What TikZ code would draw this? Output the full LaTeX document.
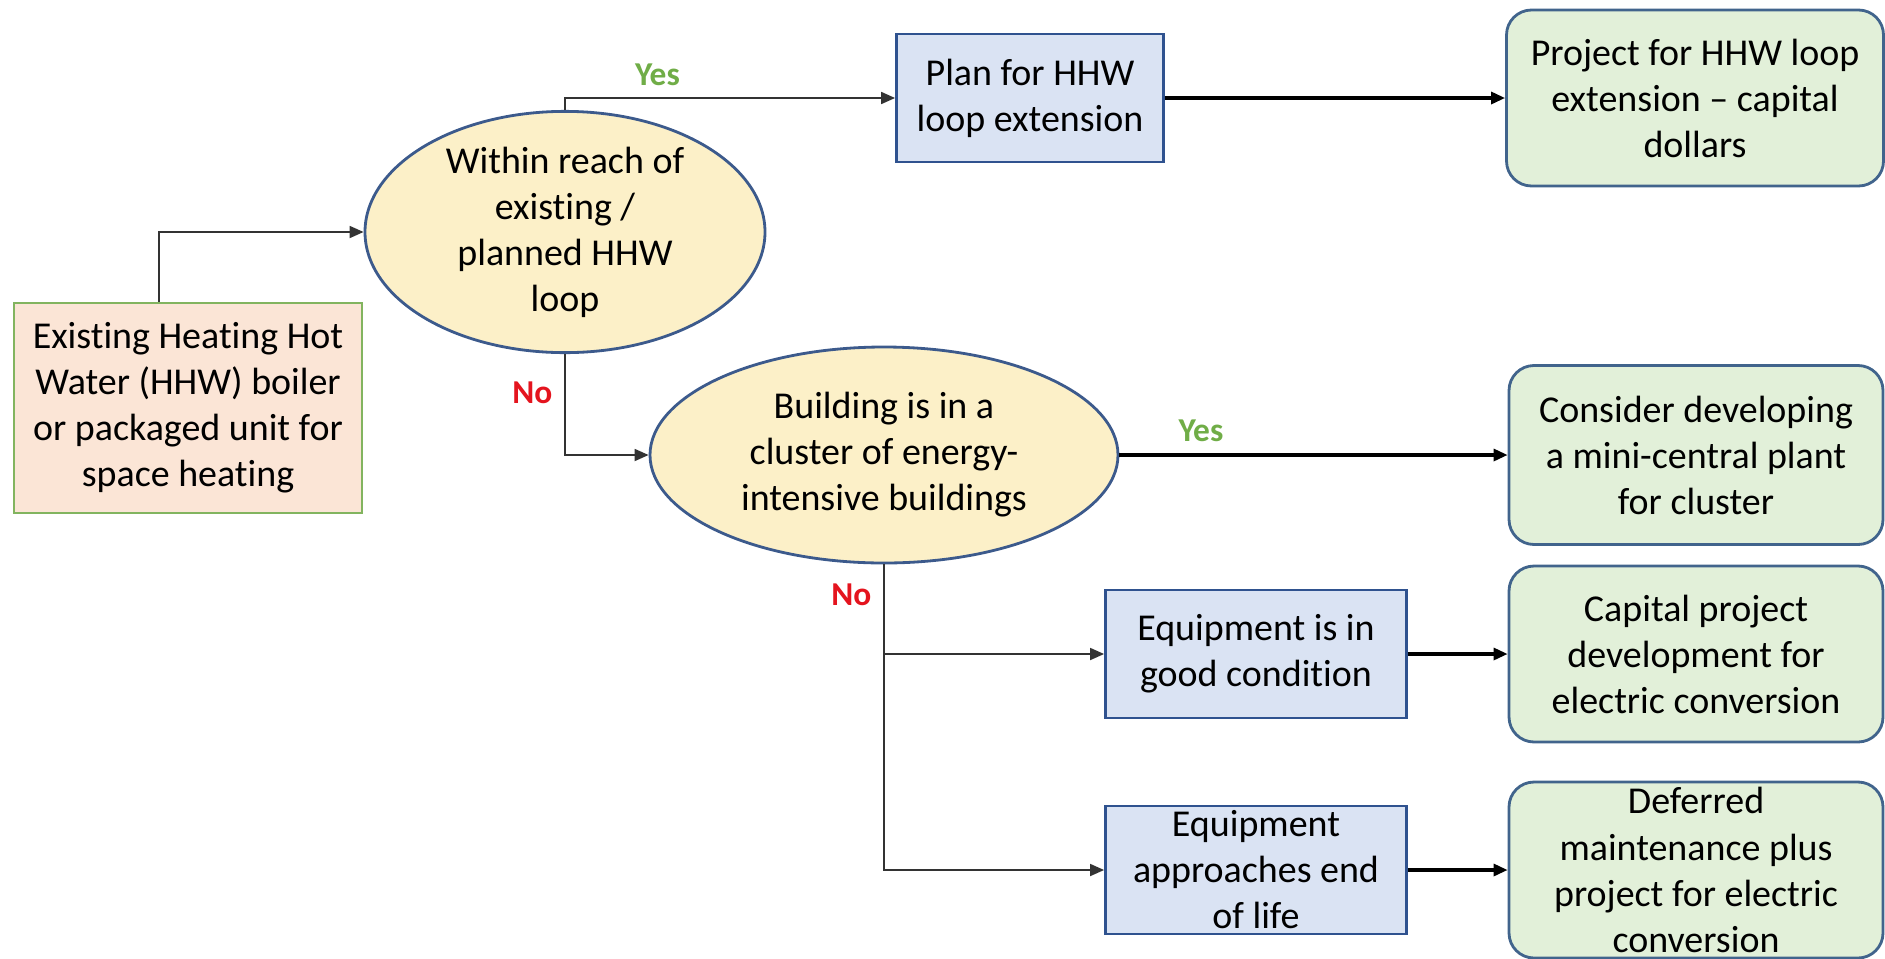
\documentclass[tikz,border=0pt]{standalone}
\usepackage{fontspec}
\setmainfont{Carlito}[Ligatures=CommonOff]
\usepackage{xcolor}
\usepackage{tikz}
\usetikzlibrary{arrows.meta, positioning, shapes.geometric}
\definecolor{startfill}{RGB}{251, 229, 214}
\definecolor{startdraw}{RGB}{130, 180, 95}
\definecolor{decfill}{RGB}{252, 240, 200}
\definecolor{decdraw}{RGB}{60, 90, 140}
\definecolor{actfill}{RGB}{218, 227, 243}
\definecolor{actdraw}{RGB}{47, 82, 143}
\definecolor{outfill}{RGB}{226, 240, 217}
\definecolor{outdraw}{RGB}{65, 100, 140}
\definecolor{yesgreen}{RGB}{112, 173, 71}
\definecolor{nored}{RGB}{228, 20, 30}

\begin{document}
\begin{tikzpicture}[
  font=\fontsize{10.8}{13.1}\selectfont,
  startbox/.style={rectangle, fill=startfill, draw=startdraw, line width=0.8pt,
    minimum width=3.48cm, minimum height=2.10cm, align=center, inner sep=0pt},
  decision/.style={ellipse, fill=decfill, draw=decdraw, line width=0.8pt,
    align=center, inner sep=0pt},
  action/.style={rectangle, fill=actfill, draw=actdraw, line width=0.8pt,
    minimum width=3.01cm, minimum height=1.28cm, align=center, inner sep=0pt},
  outcome/.style={rectangle, rounded corners=0.25cm, fill=outfill, draw=outdraw, line width=0.8pt,
    minimum width=3.74cm, minimum height=1.76cm, align=center, inner sep=0pt},
  link/.style={-{Triangle[length=1.4mm, width=1.2mm]}, line width=0.5pt, black!80},
  mainlink/.style={link, line width=0.9pt, black},
  yeslab/.style={font=\fontsize{9.5}{11}\selectfont\bfseries, text=yesgreen},
  nolab/.style={font=\fontsize{9.5}{11}\selectfont\bfseries, text=nored},
]
  % Canvas
  \useasboundingbox (0,0) rectangle (18.85,-9.58);

  % Starting point
  \node[startbox] (start) at (1.88,-4.08) {Existing Heating Hot\\Water (HHW) boiler\\or packaged unit for\\space heating};

  % Decisions
  \node[decision, minimum width=4.00cm, minimum height=2.24cm] (reach) at (5.65,-2.32)
    {Within reach of\\existing /\\planned HHW\\loop};
  \node[decision, minimum width=4.68cm, minimum height=2.16cm] (cluster) at (8.84,-4.55)
    {Building is in a\\cluster of energy-\\intensive buildings};

  % Intermediate steps
  \node[action, minimum width=2.67cm] (plan) at (10.30,-0.98) {Plan for HHW\\loop extension};
  \node[action] (good) at (12.56,-6.54) {Equipment is in\\good condition};
  \node[action] (endlife) at (12.56,-8.70) {Equipment\\approaches end\\of life};

  % Outcomes
  \node[outcome, minimum width=3.77cm] (loopproj) at (16.95,-0.98)
    {Project for HHW loop\\extension -- capital\\dollars};
  \node[outcome, minimum height=1.79cm] (miniplant) at (16.96,-4.55)
    {Consider developing\\a mini-central plant\\for cluster};
  \node[outcome] (capital) at (16.96,-6.54)
    {Capital project\\development for\\electric conversion};
  \node[outcome] (deferred) at (16.96,-8.70)
    {Deferred\\maintenance plus\\project for electric\\conversion};

  % Connectors
  \draw[link] ([xshift=-0.29cm]start.north) |- (reach.west);
  \draw[link] (reach.north) |- (plan.west) node[yeslab, pos=0.64, above] {Yes};
  \draw[link] (reach.south) |- (cluster.west) node[nolab, pos=0.19, left] {No};
  \draw[mainlink] (plan.east) -- (loopproj.west);
  \draw[mainlink] (cluster.east) -- (miniplant.west) node[yeslab, pos=0.21, above] {Yes};
  \draw[link] (cluster.south) |- (good.west) node[nolab, pos=0.17, left] {No};
  \draw[link] (cluster.south) |- (endlife.west);
  \draw[mainlink] (good.east) -- (capital.west);
  \draw[mainlink] (endlife.east) -- (deferred.west);

\end{tikzpicture}
\end{document}
